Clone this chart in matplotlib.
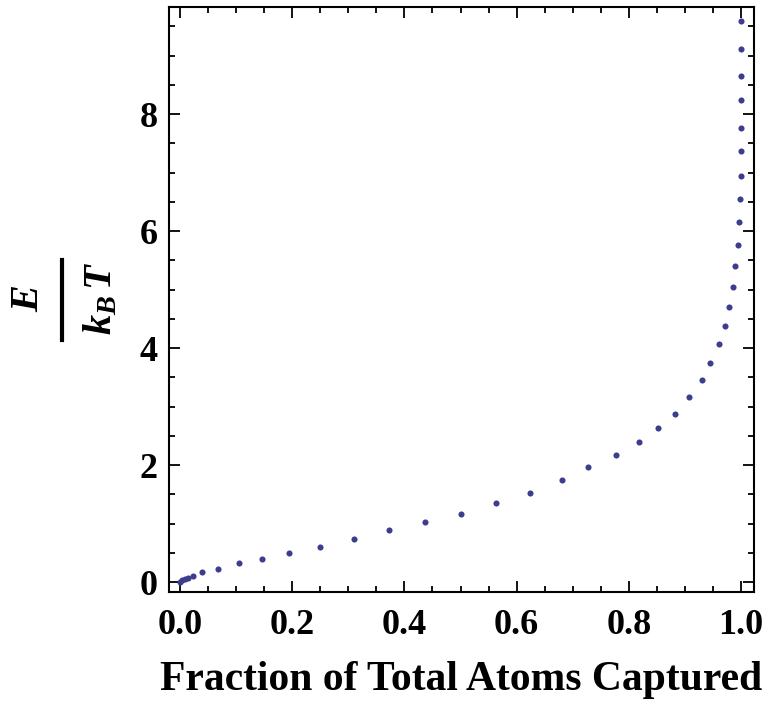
import matplotlib
matplotlib.use('Agg')
import matplotlib.pyplot as plt
from matplotlib.lines import Line2D
from matplotlib.ticker import MultipleLocator, FormatStrFormatter

plt.rcParams['font.family'] = 'Liberation Serif'
plt.rcParams['font.weight'] = 'bold'
plt.rcParams['mathtext.fontset'] = 'custom'
plt.rcParams['mathtext.it'] = 'Liberation Serif:italic:bold'
plt.rcParams['mathtext.rm'] = 'Liberation Serif:bold'

# fraction of atoms captured vs. trap depth E/kT
frac = [0.0, 0.004, 0.009, 0.014, 0.023, 0.040, 0.067, 0.105, 0.146, 0.194,
        0.250, 0.310, 0.373, 0.437, 0.500, 0.564, 0.624, 0.680, 0.728, 0.777,
        0.818, 0.852, 0.882, 0.907, 0.930, 0.945, 0.960, 0.971, 0.979, 0.986,
        0.990, 0.994, 0.997, 0.998, 0.999, 0.999, 0.999, 1.0, 1.0, 1.0, 1.0]
energy = [0.0, 0.03, 0.05, 0.07, 0.10, 0.18, 0.22, 0.32, 0.39, 0.49,
          0.60, 0.74, 0.89, 1.03, 1.17, 1.35, 1.53, 1.74, 1.96, 2.17,
          2.39, 2.63, 2.88, 3.17, 3.46, 3.74, 4.07, 4.38, 4.71, 5.05,
          5.41, 5.76, 6.16, 6.54, 6.94, 7.37, 7.77, 8.24, 8.65, 9.12, 9.59]

W, H = 770, 707
fig = plt.figure(figsize=(W / 100, H / 100), dpi=100)
ax = fig.add_axes([169 / W, 1 - 592 / H, 585 / W, 585 / H])

ax.plot(frac, energy, 'o', color='#3d3d8f', markersize=4.4, markeredgewidth=0)

ax.set_xlim(-0.0196, 1.023)
ax.set_ylim(-0.17, 9.83)

ax.xaxis.set_major_locator(MultipleLocator(0.2))
ax.xaxis.set_minor_locator(MultipleLocator(0.05))
ax.yaxis.set_major_locator(MultipleLocator(2))
ax.yaxis.set_minor_locator(MultipleLocator(0.5))
ax.xaxis.set_major_formatter(FormatStrFormatter('%.1f'))

ax.tick_params(which='both', direction='in', top=True, right=True,
               labelsize=26, width=1.3)
ax.tick_params(axis='x', pad=12)
ax.tick_params(axis='y', pad=8)
ax.tick_params(which='major', length=8)
ax.tick_params(which='minor', length=4)
for s in ax.spines.values():
    s.set_linewidth(1.5)

ax.set_xlabel('Fraction of Total Atoms Captured', fontsize=30,
              fontweight='bold', labelpad=14)

# y label as a stacked fraction E / (k_B T), rotated
fig.text(29 / W, 1 - 298 / H, r'$E$', rotation=90, fontsize=29,
         ha='center', va='center')
fig.add_artist(Line2D([62 / W, 62 / W], [1 - 260 / H, 1 - 340 / H],
                      transform=fig.transFigure, color='black', lw=3))
fig.text(101 / W, 1 - 299 / H, r'$k_B\,T$', rotation=90, fontsize=29,
         ha='center', va='center')

fig.savefig('out.png', dpi=100)
